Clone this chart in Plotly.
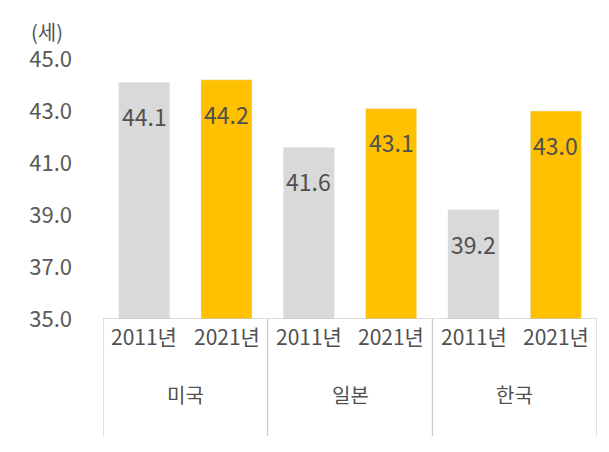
import plotly.graph_objects as go

countries = ["미국", "일본", "한국"]
years = ["2011년", "2021년"]
v2011 = [44.1, 41.6, 39.2]
v2021 = [44.2, 43.1, 43.0]
yticks = [35.0, 37.0, 39.0, 41.0, 43.0, 45.0]

F = "Noto Sans CJK KR"
C = "#505050"
fig = go.Figure()
x11 = [i*2+0.5 for i in range(3)]
x21 = [i*2+1.5 for i in range(3)]
fig.add_bar(x=x11, y=[v-35 for v in v2011], base=35, width=0.62, marker_color="#D9D9D9")
fig.add_bar(x=x21, y=[v-35 for v in v2021], base=35, width=0.62, marker_color="#FFC000")

ann = []
for xs, vs in ((x11, v2011), (x21, v2021)):
    for x, v in zip(xs, vs):
        ann.append(dict(x=x, y=v, text=f"{v:.1f}", showarrow=False, yshift=-34,
                        font=dict(size=23, color=C, family=F)))
for i, c in enumerate(countries):
    for j, yr in enumerate(years):
        ann.append(dict(x=i*2+0.5+j, y=-0.13, yref="paper", text=yr, showarrow=False,
                        font=dict(size=21, color=C, family=F)))
    ann.append(dict(x=i*2+1, y=-0.355, yref="paper", text=c, showarrow=False,
                    font=dict(size=20, color=C, family=F)))
ann.append(dict(x=-0.15, y=1.17, xref="paper", yref="paper", text="(세)", showarrow=False,
                font=dict(size=20, color=C, family=F)))

shapes = [dict(type="line", xref="x", yref="paper", x0=k, x1=k, y0=0, y1=-0.45,
               line=dict(color="#BFBFBF", width=1)) for k in (0, 2, 4, 6)]
shapes.append(dict(type="line", xref="x", yref="y", x0=0, x1=6, y0=35, y1=35,
                   line=dict(color="#BFBFBF", width=1)))

fig.update_layout(width=609, height=452, margin=dict(l=95, r=20, t=51, b=141),
                  plot_bgcolor="white", paper_bgcolor="white", showlegend=False,
                  annotations=ann, shapes=shapes, barmode="overlay",
                  xaxis=dict(range=[0, 6], showticklabels=False, showgrid=False, zeroline=False),
                  yaxis=dict(range=[35, 45], tickvals=yticks, ticktext=[f"{t:.1f}" for t in yticks],
                             showgrid=False, zeroline=False, ticks="", ticklabelstandoff=30,
                             tickfont=dict(size=22, color="#595959", family=F)))
fig.write_html("out.html")
